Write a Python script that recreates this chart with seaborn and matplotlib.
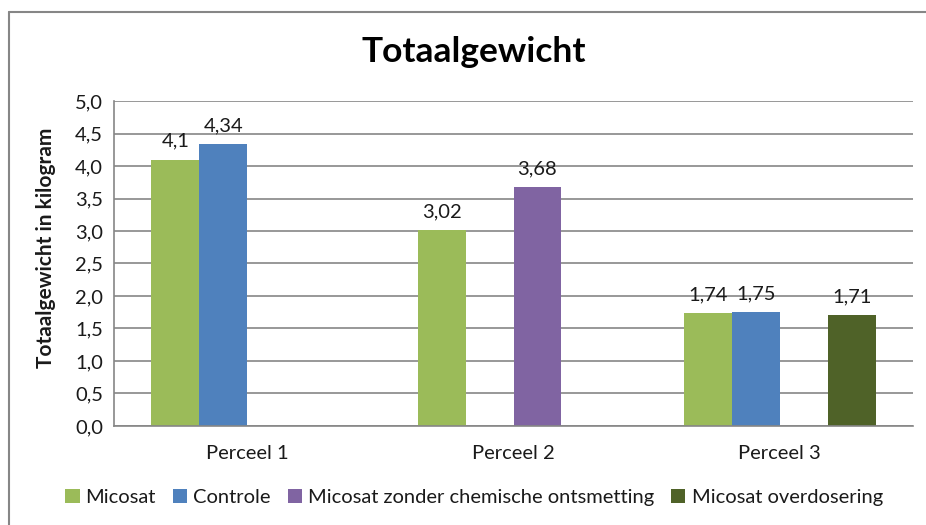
import pandas as pd
import matplotlib
matplotlib.use("Agg")
import matplotlib.pyplot as plt
import seaborn as sns
from matplotlib.lines import Line2D
from matplotlib.ticker import FuncFormatter, FixedLocator

# data
percelen = ["Perceel 1", "Perceel 2", "Perceel 3"]
behandelingen = ["Micosat", "Controle", "Micosat zonder chemische ontsmetting", "Micosat overdosering"]
kleuren = ["#9BBB59", "#4F81BD", "#8064A2", "#4F6228"]

micosat = [4.1, 3.02, 1.74]
controle = [4.34, None, 1.75]
zonder_ontsmetting = [None, 3.68, None]
overdosering = [None, None, 1.71]

rows = []
for serie, waarden in zip(behandelingen, [micosat, controle, zonder_ontsmetting, overdosering]):
    for perceel, w in zip(percelen, waarden):
        if w is not None:
            rows.append({"Perceel": perceel, "Behandeling": serie, "Gewicht": w})
df = pd.DataFrame(rows)

sns.set_style("white")
plt.rcParams["font.family"] = ["Lato", "DejaVu Sans"]

grijs = "#868686"
tekst = "#1a1a1a"

fig = plt.figure(figsize=(9.26, 5.25), dpi=100)
ax = fig.add_axes([0.1231, 0.1886, 0.8629, 0.619])

sns.barplot(
    data=df, x="Perceel", y="Gewicht", hue="Behandeling",
    order=percelen, hue_order=behandelingen, palette=kleuren,
    width=0.72, dodge=True, errorbar=None, saturation=1,
    linewidth=0, ax=ax
)

# data labels
for cont in ax.containers:
    ax.bar_label(cont, labels=[f"{v:g}".replace(".", ",") for v in cont.datavalues],
                 padding=7, fontsize=14.5, color=tekst)

ax.set_ylim(0, 5)
ax.set_xlim(-0.5, 2.5)
ax.set_yticks([i * 0.5 for i in range(11)])
ax.yaxis.set_major_formatter(FuncFormatter(lambda v, p: f"{v:.1f}".replace(".", ",")))
ax.yaxis.grid(True, color=grijs, linewidth=1.2)
ax.set_axisbelow(True)

ax.xaxis.set_minor_locator(FixedLocator([-0.5, 0.5, 1.5, 2.5]))
ax.tick_params(axis="x", which="major", length=0, pad=14, labelsize=14.5, labelcolor=tekst)
ax.tick_params(axis="x", which="minor", length=6, width=1.2, color=grijs, direction="out")
ax.tick_params(axis="y", length=6, width=1.2, color=grijs, direction="out", labelsize=14.5,
               labelcolor=tekst, pad=2)

for s in ["top", "right"]:
    ax.spines[s].set_visible(False)
for s in ["left", "bottom"]:
    ax.spines[s].set_color(grijs)
    ax.spines[s].set_linewidth(1.2)

ax.set_xlabel("")
ax.set_ylabel("Totaalgewicht in kilogram", fontsize=15, fontweight="bold", color=tekst)
ax.yaxis.set_label_coords(-0.072, 0.548)
fig.text(0.512, 0.90, "Totaalgewicht", ha="center", va="center", fontsize=25.5,
         fontweight="bold", color="black")

handles, labels = ax.get_legend_handles_labels()
ax.legend_.remove()
fig.legend(handles, labels, loc="center", bbox_to_anchor=(0.512, 0.053), ncol=4,
           frameon=False, fontsize=14.5, handlelength=0.7, handleheight=0.7,
           handletextpad=0.3, columnspacing=0.85, labelcolor=tekst)

# kader van de grafiek
fig.add_artist(Line2D([9 / 926, 9 / 926], [0, 1 - 12 / 525], color=grijs, linewidth=1.5))
fig.add_artist(Line2D([9 / 926, 1], [1 - 12 / 525, 1 - 12 / 525], color=grijs, linewidth=1.5))

fig.savefig("out.png", dpi=100)
